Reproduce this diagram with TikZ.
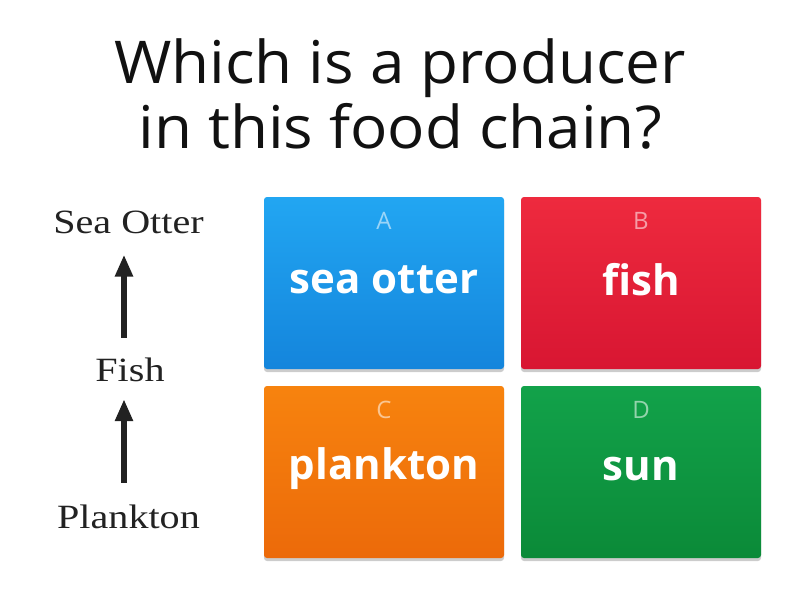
\documentclass[tikz,border=0pt]{standalone}
\usepackage{fontspec}
\setmainfont{Open Sans}
\newfontfamily\timesf{Liberation Serif}
\usetikzlibrary{shadows,arrows.meta}
\definecolor{titlec}{HTML}{111111}
\definecolor{blueA}{HTML}{22A6F2}
\definecolor{blueB}{HTML}{1485DC}
\definecolor{redA}{HTML}{EE2A3E}
\definecolor{redB}{HTML}{D81632}
\definecolor{orA}{HTML}{F7830E}
\definecolor{orB}{HTML}{EC6A0A}
\definecolor{grA}{HTML}{12A24A}
\definecolor{grB}{HTML}{0B8A38}
\definecolor{inkc}{HTML}{222222}
\tikzset{
  answer/.style={rounded corners=3pt, minimum width=240pt, minimum height=172pt, inner sep=0pt,
    drop shadow={shadow xshift=0pt, shadow yshift=-3pt, opacity=0.2, fill=black}},
  letter/.style={font=\fontsize{24}{24}\selectfont, text=white, text opacity=0.55, inner sep=0pt},
  anstext/.style={font=\fontsize{42}{42}\selectfont\bfseries, text=white, inner sep=0pt},
  chain/.style={font=\timesf\fontsize{34}{34}\selectfont, text=inkc, inner sep=0pt, xscale=1.18},
  arr/.style={draw=inkc, line width=6pt, -{Triangle[length=22pt,width=17pt]}},
}
\begin{document}
\begin{tikzpicture}[x=1pt,y=-1pt]
\useasboundingbox[fill=white] (0,0) rectangle (800,600);
\node[font=\fontsize{59}{66}\selectfont, text=titlec, align=center, inner sep=0pt, xscale=1.05] (title) at (400,94)
  {Which is a producer\\in this food chain?};
% food chain
\node[chain] (otter) at (128.5,222) {Sea Otter};
\node[chain] (fish) at (130,370) {Fish};
\node[chain] (plank) at (128.5,517) {Plankton};
\draw[arr, shorten <=20pt, shorten >=21pt] ([xshift=-6pt]fish.north) -- ([xshift=-4.5pt]otter.south);
\draw[arr, shorten <=22pt, shorten >=17pt] ([xshift=-4.5pt]plank.north) -- ([xshift=-6pt]fish.south);
% answers
\node[answer, top color=blueA, bottom color=blueB] (boxA) at (384,283) {};
\node[answer, top color=redA, bottom color=redB] (boxB) at (641,283) {};
\node[answer, top color=orA, bottom color=orB] (boxC) at (384,472) {};
\node[answer, top color=grA, bottom color=grB] (boxD) at (641,472) {};
\node[letter] (lA) at (384,221) {A};
\node[letter] (lB) at (641,221) {B};
\node[letter] (lC) at (384,410) {C};
\node[letter] (lD) at (641,410) {D};
\node[anstext] (tA) at (384,280) {sea otter};
\node[anstext] (tB) at (641,280) {fish};
\node[anstext] (tC) at (384,469) {plankton};
\node[anstext] (tD) at (641,469) {sun};
\end{tikzpicture}
\end{document}
